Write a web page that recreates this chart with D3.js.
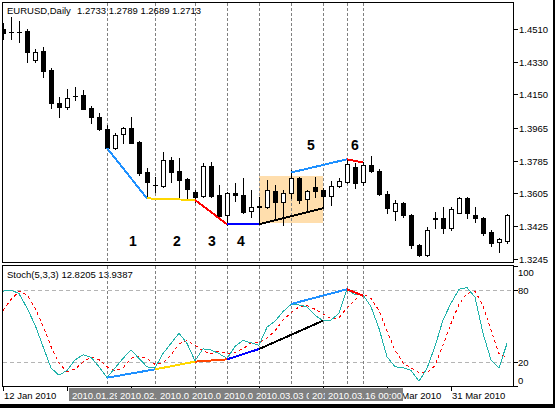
<!DOCTYPE html>
<html>
<head>
<meta charset="utf-8">
<script src="https://cdn.jsdelivr.net/npm/d3@7"></script>
<style>
  body { margin: 0; background: #fff; }
  svg { display: block; }
  text { font-family: "Liberation Sans", Arial, sans-serif; font-size: 9.5px; }
</style>
</head>
<body>
<div id="chart"></div>
<script>
// Daily bars, one per weekday
var dates = [
  "2010-01-12","2010-01-13","2010-01-14","2010-01-15","2010-01-18","2010-01-19","2010-01-20","2010-01-21",
  "2010-01-22","2010-01-25","2010-01-26","2010-01-27","2010-01-28","2010-01-29","2010-02-01","2010-02-02",
  "2010-02-03","2010-02-04","2010-02-05","2010-02-08","2010-02-09","2010-02-10","2010-02-11","2010-02-12",
  "2010-02-15","2010-02-16","2010-02-17","2010-02-18","2010-02-19","2010-02-22","2010-02-23","2010-02-24",
  "2010-02-25","2010-02-26","2010-03-01","2010-03-02","2010-03-03","2010-03-04","2010-03-05","2010-03-08",
  "2010-03-09","2010-03-10","2010-03-11","2010-03-12","2010-03-15","2010-03-16","2010-03-17","2010-03-18",
  "2010-03-19","2010-03-22","2010-03-23","2010-03-24","2010-03-25","2010-03-26","2010-03-29","2010-03-30",
  "2010-03-31","2010-04-01","2010-04-02","2010-04-05","2010-04-06","2010-04-07","2010-04-08","2010-04-09"];

var opens = [1.4510,1.4495,1.4493,1.4499,1.4340,1.4389,1.4285,1.4103,1.4081,1.4141,1.4147,1.4075,1.4026,1.3960,1.3857,1.3933,
  1.3966,1.3887,1.3725,1.3651,1.3646,1.3790,1.3729,1.3685,1.3614,1.3592,1.3757,1.3597,1.3487,1.3610,1.3597,1.3510,
  1.3532,1.3532,1.3621,1.3560,1.3606,1.3689,1.3573,1.3638,1.3624,1.3592,1.3648,1.3667,1.3753,1.3667,1.3762,1.3729,
  1.3603,1.3509,1.3551,1.3487,1.3322,1.3267,1.3466,1.3469,1.3414,1.3499,1.3579,1.3487,1.3472,1.3391,1.3337,1.3345];
var highs = [1.4543,1.4576,1.4554,1.4510,1.4400,1.4411,1.4296,1.4136,1.4180,1.4191,1.4175,1.4086,1.4048,1.3982,1.3940,1.3973,
  1.4028,1.3896,1.3744,1.3698,1.3835,1.3808,1.3799,1.3692,1.3624,1.3775,1.3780,1.3652,1.3615,1.3661,1.3689,1.3624,
  1.3586,1.3680,1.3652,1.3624,1.3735,1.3698,1.3624,1.3698,1.3634,1.3674,1.3689,1.3793,1.3771,1.3780,1.3812,1.3738,
  1.3621,1.3570,1.3560,1.3493,1.3328,1.3419,1.3502,1.3529,1.3529,1.3584,1.3584,1.3529,1.3477,1.3405,1.3359,1.3490];
var lows = [1.4455,1.4455,1.4439,1.4328,1.4328,1.4246,1.4076,1.4026,1.4070,1.4120,1.4068,1.3993,1.3954,1.3852,1.3848,1.3881,
  1.3881,1.3707,1.3579,1.3615,1.3643,1.3670,1.3588,1.3573,1.3560,1.3584,1.3584,1.3477,1.3432,1.3564,1.3500,1.3477,
  1.3441,1.3523,1.3460,1.3432,1.3579,1.3553,1.3515,1.3588,1.3523,1.3542,1.3643,1.3661,1.3634,1.3652,1.3721,1.3597,
  1.3496,1.3460,1.3477,1.3303,1.3262,1.3263,1.3414,1.3389,1.3405,1.3496,1.3469,1.3450,1.3377,1.3316,1.3284,1.3334];
var closes = [1.4488,1.4493,1.4495,1.4384,1.4384,1.4279,1.4103,1.4081,1.4131,1.4143,1.4070,1.4026,1.3960,1.3855,1.3927,1.3966,
  1.3885,1.3716,1.3670,1.3649,1.3790,1.3725,1.3680,1.3628,1.3586,1.3757,1.3592,1.3482,1.3608,1.3595,1.3505,1.3528,
  1.3534,1.3624,1.3560,1.3606,1.3689,1.3570,1.3619,1.3619,1.3592,1.3648,1.3674,1.3768,1.3665,1.3762,1.3731,1.3603,
  1.3524,1.3551,1.3487,1.3322,1.3267,1.3405,1.3468,1.3414,1.3518,1.3579,1.3496,1.3472,1.3386,1.3331,1.3355,1.3489];

// Stochastic(5,3,3): main and signal line
var stochK = [79,80,77,65,51,33,15,9,13,21.7,26,24,16,7,15,23,30,23,16,15,27,35.5,44,35.5,21,31,30,27,23,33,38,36,
  34,49,54,62,68,67.5,66,59,54.4,55,60.5,80.5,76,76,66,48,24.4,16,15.3,13,4,14.7,33,55,69,80.6,82,74,44,21.7,15,35.5];
var stochD = [63,72,79,76,65,50,33,19,12,14,20,24,22,16,13,15,23,25,23,18,19,26,35,38,34,29,27,29,27,28,31,36,
  36,40,46,55,61,66,67,64,60,56,57,65,72,77,73,63,46,30,19,15,11,11,17,34,52,68,77,79,67,47,27,24];

var priceTicks = [1.4510, 1.4330, 1.4150, 1.3965, 1.3785, 1.3605, 1.3425, 1.3245];
var stochTicks = [100, 80, 20, 0];
var stochLevels = [80, 20];
var axisLabelDates = ["2010-01-12","2010-01-22","2010-02-03","2010-02-15","2010-02-25","2010-03-09","2010-03-19","2010-03-31"];

// vertical line objects, in the order they were drawn
var vlineDates = ["2010-03-09","2010-01-29","2010-02-08","2010-02-15","2010-02-19","2010-02-25","2010-03-03","2010-03-12","2010-03-16"];

// shaded rectangle
var boxDates = ["2010-02-25", "2010-03-09"];
var boxPrices = [1.3702, 1.3443];

// trend lines on price
var trendFrom = ["2010-01-29","2010-02-05","2010-02-15","2010-02-19","2010-02-25","2010-03-03","2010-03-12"];
var trendTo   = ["2010-02-05","2010-02-15","2010-02-19","2010-02-25","2010-03-09","2010-03-12","2010-03-16"];
var trendP1 = [1.3855, 1.3578, 1.3569, 1.3436, 1.3436, 1.3720, 1.3793];
var trendP2 = [1.3578, 1.3569, 1.3436, 1.3436, 1.3524, 1.3793, 1.3775];
var trendColors = ["#1e90ff","#ffd700","#ff0000","#0000ff","#000000","#1e90ff","#ff0000"];

// trend lines on the stochastic
var stochTrendFrom = ["2010-01-29","2010-02-08","2010-02-15","2010-02-19","2010-02-25","2010-03-03","2010-03-12"];
var stochTrendTo   = ["2010-02-08","2010-02-15","2010-02-19","2010-02-25","2010-03-09","2010-03-12","2010-03-16"];
var stochTrendV1 = [6.9, 13.9, 20.3, 22.2, 30.8, 68.3, 80.6];
var stochTrendV2 = [13.9, 20.3, 22.2, 30.8, 54.4, 80.6, 75.3];
var stochTrendColors = ["#1e90ff","#ffd700","#ff4500","#0000ff","#000000","#1e90ff","#ff0000"];

// wave numbers (bar position, price)
var waveText = ["1","2","3","4","5","6"];
var waveBar = [16.25, 21.75, 26.1, 29.75, 38.5, 44];
var wavePrice = [1.3341, 1.3341, 1.3341, 1.3341, 1.3870, 1.3870];

(function() {
  var width = 555, height = 408;
  var left = 2.5, right = 513.5,
      mainTop = 2.5, mainBottom = 262.5,
      subTop = 265.5, subBottom = 386.5;

  var parse = d3.timeParse("%Y-%m-%d"),
      fmtAxis = d3.timeFormat("%-d %b %Y"),
      fmtLine = d3.timeFormat("%Y.%m.%d 00:00");

  var idx = function(d) { return dates.indexOf(d); };

  var x = d3.scaleLinear().domain([0, dates.length - 1]).range([3, 507]);
  var y = d3.scaleLinear().domain([1.3228, 1.4658]).range([262, 2]);
  var ys = d3.scaleLinear().domain([0, 100]).range([386, 266]);
  var px = function(i) { return Math.round(x(i)) + 0.5; };

  var svg = d3.select("#chart").append("svg")
      .attr("width", width)
      .attr("height", height)
      .attr("shape-rendering", "crispEdges");

  var defs = svg.append("defs");
  defs.append("clipPath").attr("id", "clipMain").append("rect")
      .attr("x", left + 0.5).attr("y", mainTop + 0.5)
      .attr("width", right - left - 1).attr("height", mainBottom - mainTop - 1);
  defs.append("clipPath").attr("id", "clipSub").append("rect")
      .attr("x", left + 0.5).attr("y", subTop + 0.5)
      .attr("width", right - left - 1).attr("height", subBottom - subTop - 1);

  svg.append("rect").attr("width", width).attr("height", height).attr("fill", "#fff");

  // ---------- main panel ----------
  var main = svg.append("g").attr("clip-path", "url(#clipMain)");

  main.append("rect")
      .attr("x", Math.round(x(idx(boxDates[0]))))
      .attr("y", Math.round(y(boxPrices[0])))
      .attr("width", Math.round(x(idx(boxDates[1]))) - Math.round(x(idx(boxDates[0]))))
      .attr("height", Math.round(y(boxPrices[1])) - Math.round(y(boxPrices[0])))
      .attr("fill", "#ffdead");

  main.selectAll("line.vl").data(vlineDates).join("line")
      .attr("class", "vl")
      .attr("x1", function(d) { return px(idx(d)); })
      .attr("x2", function(d) { return px(idx(d)); })
      .attr("y1", mainTop).attr("y2", mainBottom)
      .attr("stroke", "#808080").attr("stroke-dasharray", "3,2");

  var bars = main.selectAll("g.bar").data(d3.range(dates.length)).join("g").attr("class", "bar");

  bars.append("line")
      .attr("x1", function(i) { return px(i); })
      .attr("x2", function(i) { return px(i); })
      .attr("y1", function(i) { return Math.round(y(highs[i])); })
      .attr("y2", function(i) { return Math.round(y(lows[i])) + 1; })
      .attr("stroke", "#000");

  bars.each(function(i) {
    var g = d3.select(this),
        top = Math.round(y(Math.max(opens[i], closes[i]))),
        bot = Math.round(y(Math.min(opens[i], closes[i]))),
        cx = px(i);
    if (bot - top < 1) {
      g.append("line").attr("x1", cx - 2.5).attr("x2", cx + 2.5)
        .attr("y1", top + 0.5).attr("y2", top + 0.5).attr("stroke", "#000");
    } else if (closes[i] >= opens[i]) {
      g.append("rect").attr("x", cx - 2).attr("y", top + 0.5)
        .attr("width", 4).attr("height", bot - top)
        .attr("fill", "#fff").attr("stroke", "#000");
    } else {
      g.append("rect").attr("x", cx - 2.5).attr("y", top)
        .attr("width", 5).attr("height", bot - top + 1)
        .attr("fill", "#000");
    }
  });

  main.selectAll("line.trend").data(trendFrom).join("line")
      .attr("class", "trend")
      .attr("x1", function(d) { return x(idx(d)); })
      .attr("x2", function(d, i) { return x(idx(trendTo[i])); })
      .attr("y1", function(d, i) { return y(trendP1[i]); })
      .attr("y2", function(d, i) { return y(trendP2[i]); })
      .attr("stroke", function(d, i) { return trendColors[i]; })
      .attr("stroke-width", 2);

  main.selectAll("text.wave").data(waveText).join("text")
      .attr("class", "wave")
      .attr("x", function(d, i) { return x(waveBar[i]); })
      .attr("y", function(d, i) { return y(wavePrice[i]); })
      .attr("dy", "0.36em")
      .attr("text-anchor", "middle")
      .style("font-size", "14px").style("font-weight", "bold")
      .text(function(d) { return d; });

  svg.append("text").attr("x", 7).attr("y", 13.5).text("EURUSD,Daily");
  svg.append("text").attr("x", 77).attr("y", 13.5).text("1.2733 1.2789 1.2689 1.2713");

  // ---------- stochastic panel ----------
  var sub = svg.append("g").attr("clip-path", "url(#clipSub)");

  sub.append("text").attr("x", 7).attr("y", 278).text("Stoch(5,3,3) 12.8205 13.9387");

  sub.selectAll("line.lvl").data(stochLevels).join("line")
      .attr("class", "lvl")
      .attr("x1", left).attr("x2", right)
      .attr("y1", function(d) { return Math.round(ys(d)) + 0.5; })
      .attr("y2", function(d) { return Math.round(ys(d)) + 0.5; })
      .attr("stroke", "#b4b4b4").attr("stroke-dasharray", "4,3");

  sub.selectAll("line.vl").data(vlineDates).join("line")
      .attr("class", "vl")
      .attr("x1", function(d) { return px(idx(d)); })
      .attr("x2", function(d) { return px(idx(d)); })
      .attr("y1", subTop).attr("y2", subBottom)
      .attr("stroke", "#808080").attr("stroke-dasharray", "3,2");

  var stochLine = d3.line().x(function(d, i) { return x(i); }).y(function(d) { return ys(d); });

  sub.append("path").datum(stochD)
      .attr("d", stochLine).attr("fill", "none")
      .attr("stroke", "#ff0000").attr("stroke-dasharray", "3,3");
  sub.append("path").datum(stochK)
      .attr("d", stochLine).attr("fill", "none")
      .attr("stroke", "#20b2aa");

  sub.selectAll("line.trend").data(stochTrendFrom).join("line")
      .attr("class", "trend")
      .attr("x1", function(d) { return x(idx(d)); })
      .attr("x2", function(d, i) { return x(idx(stochTrendTo[i])); })
      .attr("y1", function(d, i) { return ys(stochTrendV1[i]); })
      .attr("y2", function(d, i) { return ys(stochTrendV2[i]); })
      .attr("stroke", function(d, i) { return stochTrendColors[i]; })
      .attr("stroke-width", 2);

  // ---------- frames and axes ----------
  [[mainTop, mainBottom], [subTop, subBottom]].forEach(function(p) {
    svg.append("rect")
      .attr("x", left).attr("y", p[0])
      .attr("width", right - left).attr("height", p[1] - p[0])
      .attr("fill", "none").attr("stroke", "#000");
  });

  var priceAxis = svg.append("g");
  priceTicks.forEach(function(t) {
    var ty = Math.round(y(t)) + 0.5;
    priceAxis.append("line").attr("x1", right).attr("x2", right + 4)
      .attr("y1", ty).attr("y2", ty).attr("stroke", "#000");
    priceAxis.append("text").attr("x", 519).attr("y", ty).attr("dy", "0.35em")
      .text(d3.format(".4f")(t));
  });

  var stochAxis = svg.append("g");
  stochTicks.forEach(function(t) {
    var ty = Math.round(ys(t)) + 0.5;
    var labelY = Math.max(subTop + 7, Math.min(subBottom - 6, ty));
    stochAxis.append("line").attr("x1", right).attr("x2", right + 4)
      .attr("y1", ty).attr("y2", ty).attr("stroke", "#000");
    stochAxis.append("text").attr("x", 518).attr("y", labelY).attr("dy", "0.35em").text(t);
  });

  // time scale: date labels, then the grey labels of the vertical lines on top
  var timeAxis = svg.append("g");
  var timeItems = [];
  axisLabelDates.forEach(function(d) {
    var tx = px(idx(d));
    timeAxis.append("line").attr("x1", tx).attr("x2", tx)
      .attr("y1", subBottom).attr("y2", subBottom + 4).attr("stroke", "#000");
    var t = timeAxis.append("text").attr("x", tx + 0.5).attr("y", 398.5).text(fmtAxis(parse(d)));
    timeItems.push({ text: t, x: tx + 0.5, box: null });
  });

  vlineDates.forEach(function(d) {
    var bx = Math.round(px(idx(d)) - 39);
    timeAxis.append("rect").attr("x", bx).attr("y", 388)
      .attr("width", 78).attr("height", 13).attr("fill", "#808080");
    var t = timeAxis.append("text").attr("x", bx + 3).attr("y", 398.5)
      .attr("fill", "#fff").text(fmtLine(parse(d)));
    timeItems.push({ text: t, x: bx + 3, box: [bx, bx + 78] });
  });

  // keep only the part of each label that later grey boxes leave visible
  timeItems.forEach(function(it, k) {
    var later = timeItems.slice(k + 1).filter(function(o) { return o.box; })
                         .map(function(o) { return o.box; });
    var node = it.text.node(), s = it.text.text(), pos = [0], vis = [];
    for (var i = 1; i <= s.length; i++) pos.push(node.getSubStringLength(0, i));
    for (i = 0; i < s.length; i++) {
      var a = it.x + pos[i] + 3, b = it.x + pos[i + 1] - 3;
      vis.push(!later.some(function(bx) { return b > bx[0] && a < bx[1]; }));
    }
    var best = [0, 0], runStart = -1;
    for (i = 0; i <= s.length; i++) {
      if (i < s.length && vis[i]) { if (runStart < 0) runStart = i; }
      else if (runStart >= 0) {
        if (i - runStart > best[1] - best[0]) best = [runStart, i];
        runStart = -1;
      }
    }
    var part = s.slice(best[0], best[1]);
    var lead = part.length - part.replace(/^\s+/, "").length;
    part = part.trim();
    if (!part) { it.text.remove(); return; }
    it.text.attr("x", it.x + pos[best[0] + lead]).text(part);
  });

  // window edge
  svg.append("rect").attr("x", 553).attr("y", 0).attr("width", 2).attr("height", height).attr("fill", "#000");
  svg.append("rect").attr("x", 0).attr("y", 404).attr("width", width).attr("height", 4).attr("fill", "#000");
})();
</script>
</body>
</html>
